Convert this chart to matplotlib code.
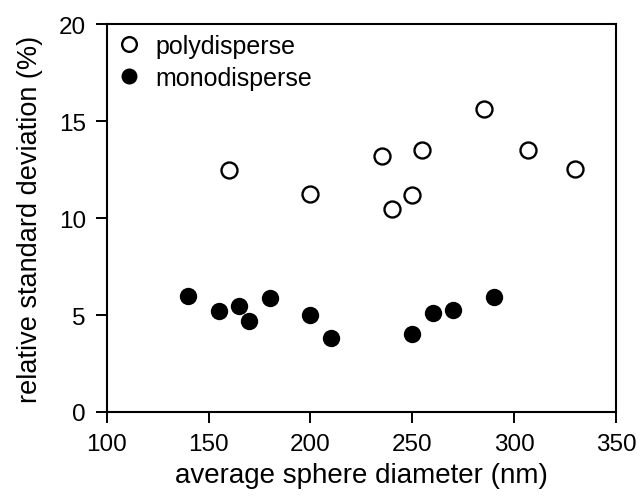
import matplotlib
matplotlib.use("Agg")
import matplotlib.pyplot as plt

plt.rcParams['font.family'] = ['Liberation Sans', 'DejaVu Sans']

poly_x = [160, 200, 235, 240, 250, 255, 285, 307, 330]
poly_y = [12.5, 11.25, 13.2, 10.45, 11.2, 13.5, 15.6, 13.5, 12.55]
mono_x = [140, 155, 165, 170, 180, 200, 210, 250, 260, 270, 290]
mono_y = [6.0, 5.2, 5.45, 4.7, 5.9, 5.0, 3.8, 4.0, 5.1, 5.25, 5.95]
x_ticks = [100, 150, 200, 250, 300, 350]
y_ticks = [0, 5, 10, 15, 20]

fig = plt.figure(figsize=(6.41, 5.02), dpi=100)
ax = fig.add_axes([0.1665, 0.1773, 0.7945, 0.7727])

ax.plot(poly_x, poly_y, 'o', ms=11.5, mfc='white', mec='black', mew=1.7,
        ls='none', label='polydisperse')
ax.plot(mono_x, mono_y, 'o', ms=12.5, mfc='black', mec='black', mew=0,
        ls='none', label='monodisperse')

ax.set_xlim(100, 350)
ax.set_ylim(0, 20)
ax.set_xticks(x_ticks)
ax.set_yticks(y_ticks)
ax.tick_params(direction='out', length=8, width=1.4, labelsize=17.5, pad=7)
for s in ax.spines.values():
    s.set_linewidth(1.5)

ax.set_xlabel('average sphere diameter (nm)', fontsize=20, labelpad=5)
ax.set_ylabel('relative standard deviation (%)', fontsize=19.5, labelpad=11)

ax.legend(loc='upper left', frameon=False, fontsize=18, handletextpad=0.55,
          borderaxespad=0.2, borderpad=0.2, labelspacing=0.3, handlelength=1.0,
          markerscale=0.92)

fig.savefig('out.png', dpi=100)
